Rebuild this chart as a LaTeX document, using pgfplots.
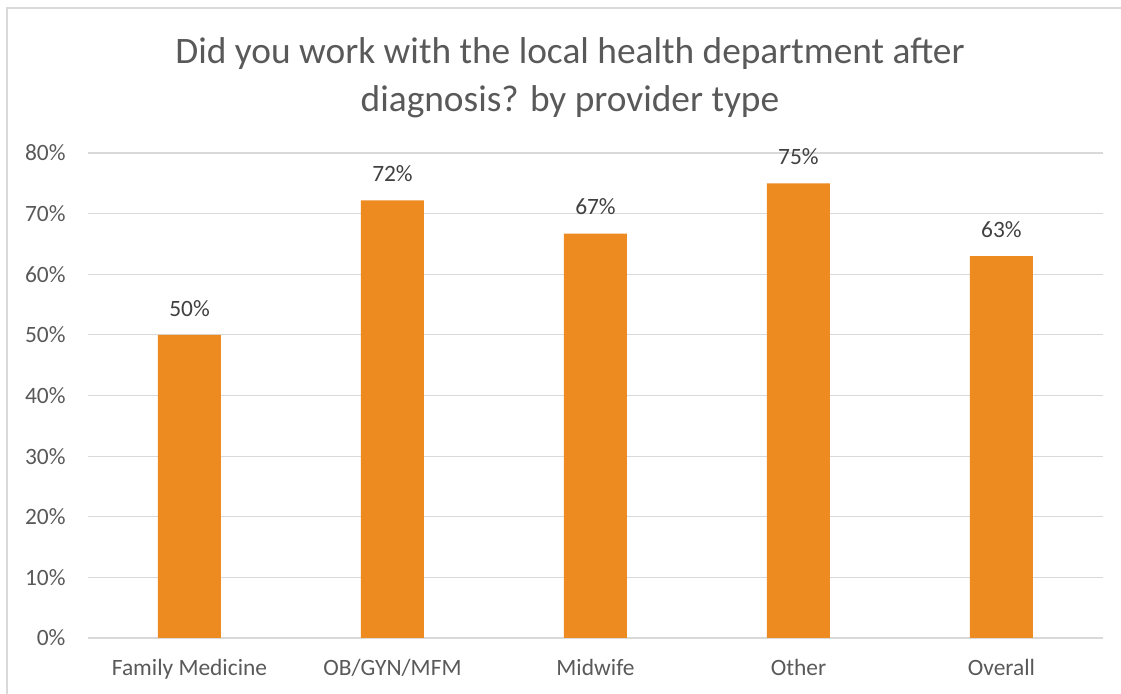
\documentclass[border=0pt]{standalone}
\usepackage{pgfplots}
\pgfplotsset{compat=1.18}
\usepackage{fontspec}
\setmainfont{Carlito}
\definecolor{barc}{RGB}{237,139,32}
\definecolor{txt}{RGB}{89,89,89}
\definecolor{lbl}{RGB}{64,64,64}
\definecolor{grid}{RGB}{217,217,217}
\begin{document}
\begin{tikzpicture}[x=1bp,y=1bp]
\path[use as bounding box] (0,0) rectangle (1121,694);
\draw[grid, line width=1.2bp] (7,0) -- (7,686) -- (1121,686);
\node[txt, font=\fontsize{37.5}{48}\selectfont, align=center] at (570,616) {Did you work with the local health department after\\diagnosis? by provider type};
\begin{axis}[
  at={(88bp,56bp)}, anchor=south west,
  scale only axis, width=1015bp, height=485bp,
  xmin=-0.5, xmax=4.5, ymin=0, ymax=80,
  axis line style={draw=none},
  ytick={0,10,...,80},
  yticklabel={\pgfmathprintnumber{\tick}\%},
  xmajorgrids=false, ymajorgrids=true,
  y grid style={grid, line width=1.2bp},
  xtick={0,1,2,3,4},
  xticklabels={Family Medicine,OB/GYN/MFM,Midwife,Other,Overall},
  tick style={draw=none},
  major tick length=0pt,
  tick label style={txt, font=\fontsize{23.5}{26}\selectfont},
  /pgf/number format/assume math mode=true,
  yticklabel style={xshift=-19bp},
  xticklabel style={yshift=-18bp},
  nodes near coords,
  nodes near coords style={lbl, font=\fontsize{23.5}{26}\selectfont, yshift=15bp},
  point meta=explicit symbolic,
  clip=false,
]
\addplot[ybar, bar width=63bp, fill=barc, draw=none] coordinates {
  (0,50) [50\%]
  (1,72.2) [72\%]
  (2,66.7) [67\%]
  (3,75) [75\%]
  (4,63) [63\%]
};
\end{axis}
\end{tikzpicture}
\end{document}
